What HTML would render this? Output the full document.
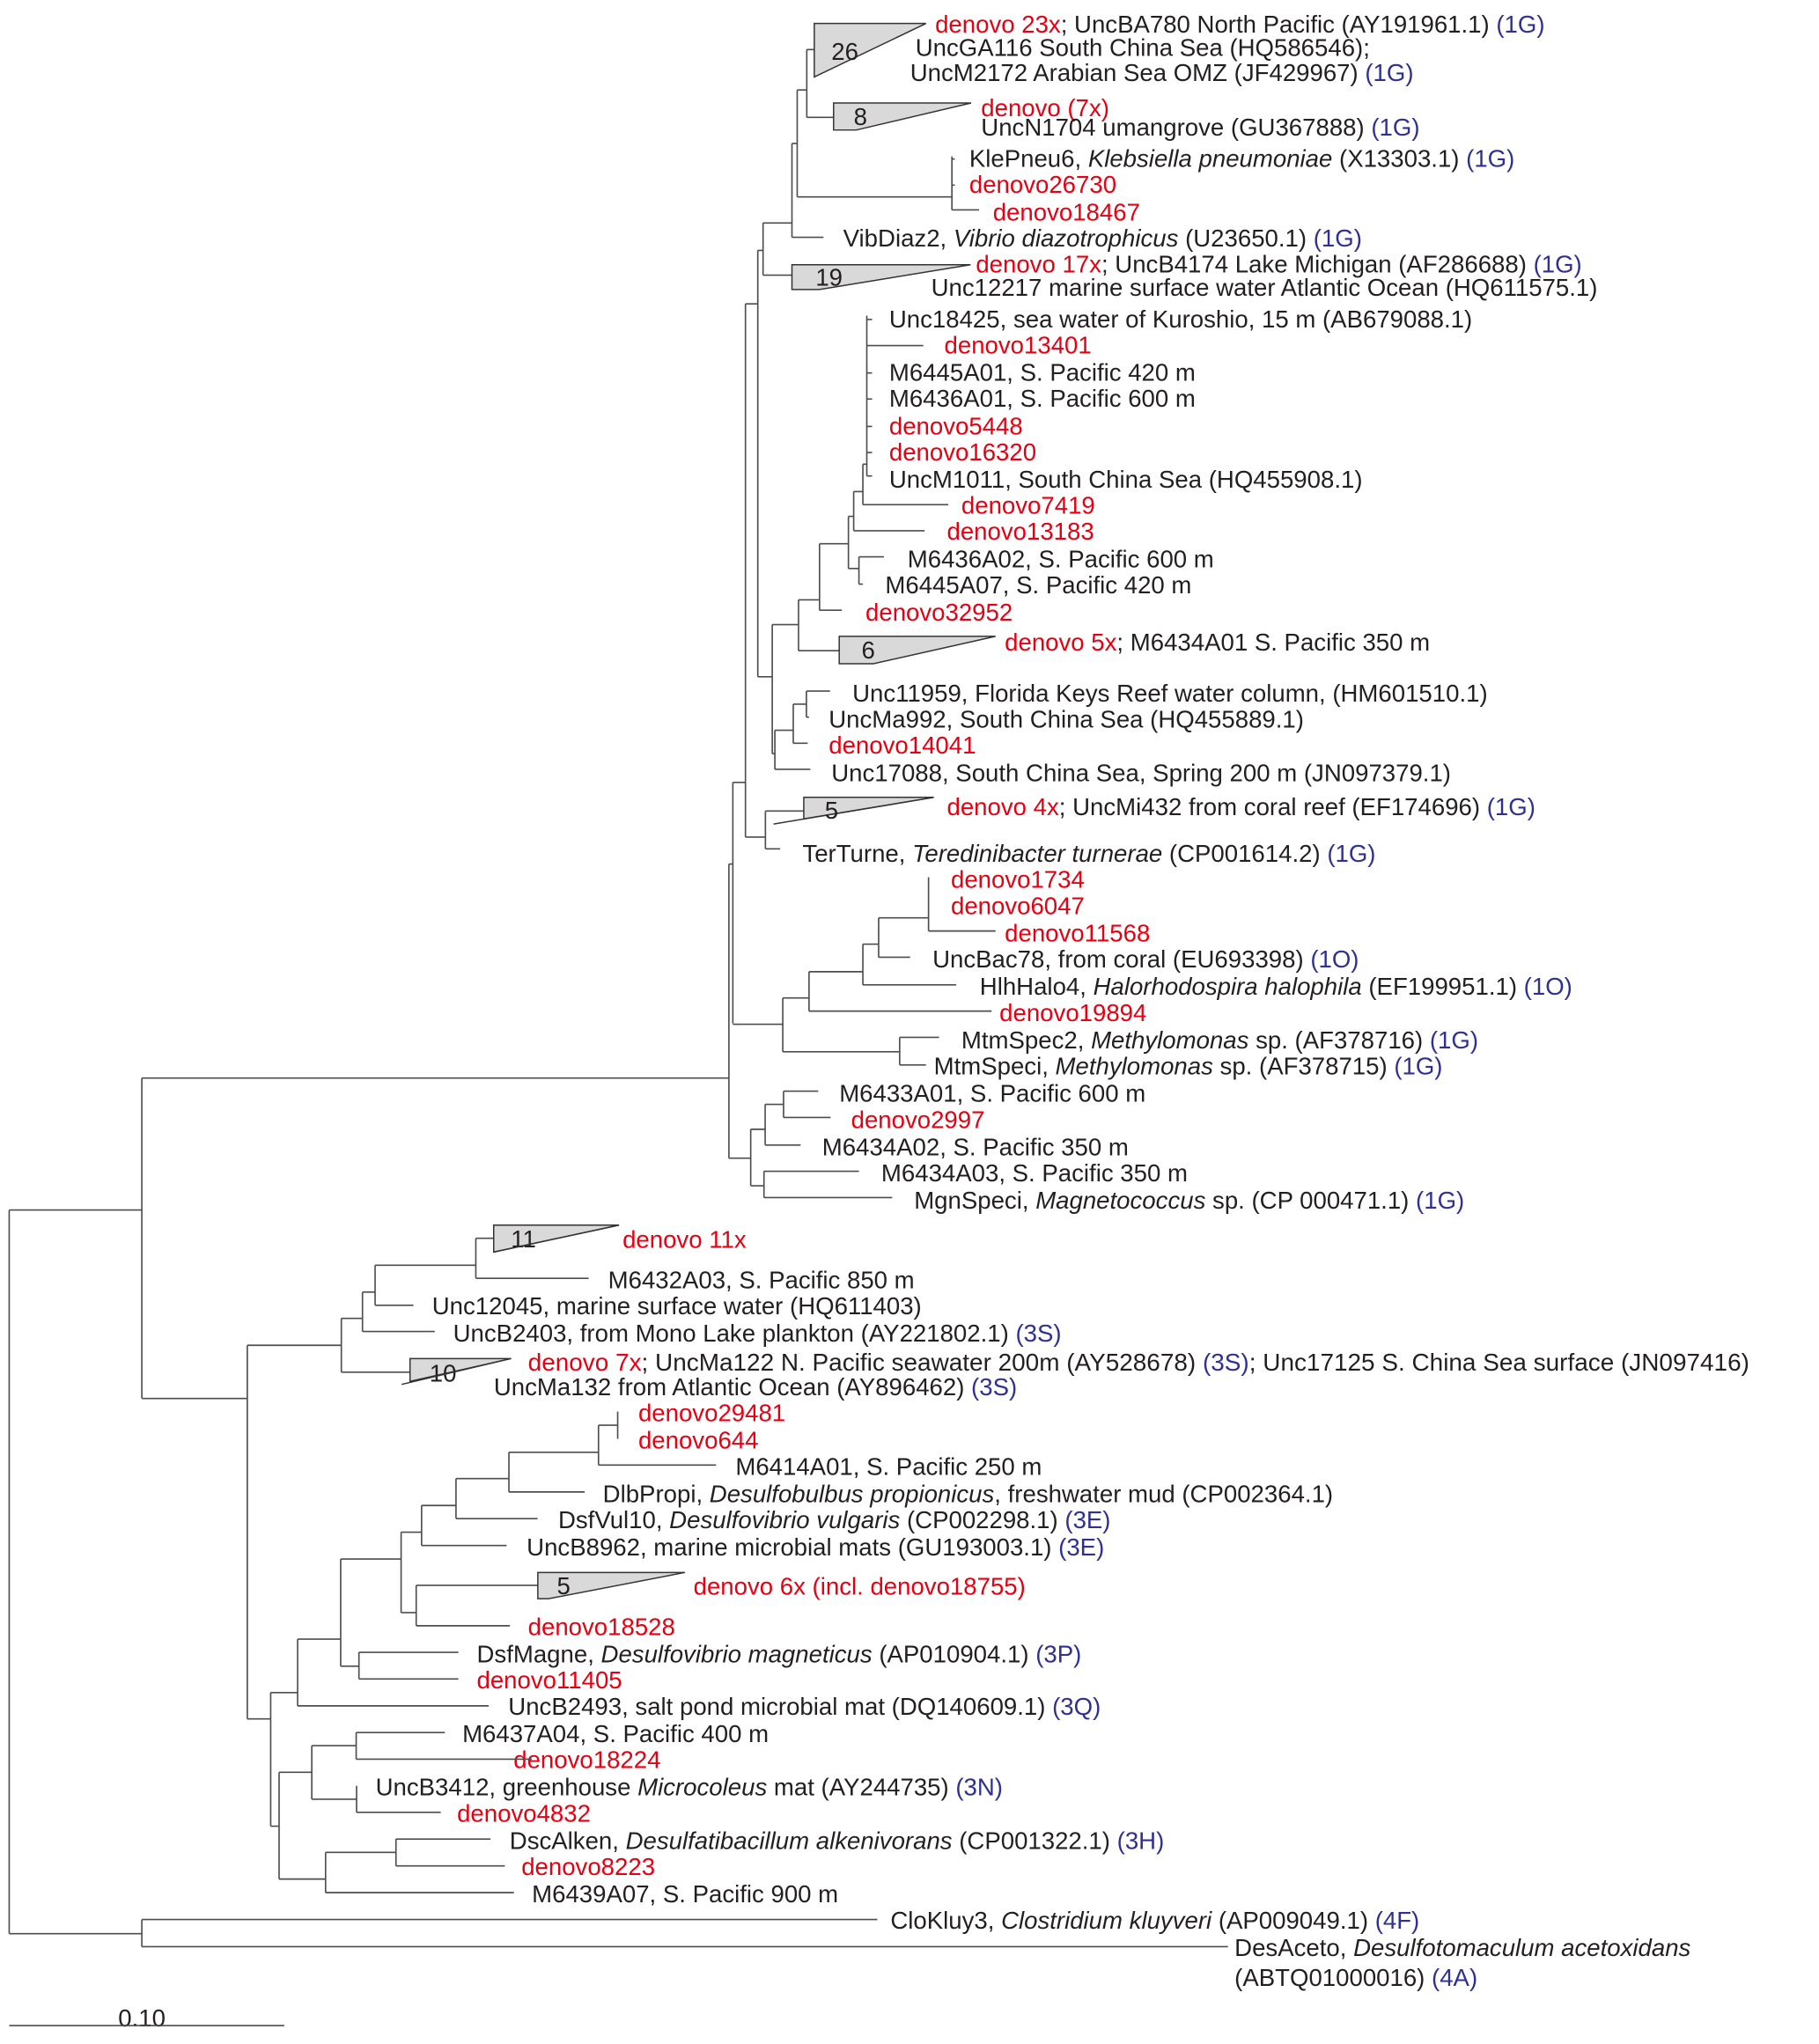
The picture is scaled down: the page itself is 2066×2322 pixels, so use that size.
<!DOCTYPE html>
<html><head><meta charset="utf-8"><style>
html,body{margin:0;padding:0;background:#fff;}
svg{display:block;}
text{font-family:"Liberation Sans",sans-serif;font-size:18.5px;fill:#231f20;}
.r{fill:#e60012;} .b{fill:#2e3192;} .i{font-style:italic;}
</style></head><body>
<svg width="2066" height="2322" viewBox="0 0 1385 1556.6" xmlns="http://www.w3.org/2000/svg">
<rect width="1385" height="1556.6" fill="#fff"/>
<g transform="scale(1,0.993)">
<g stroke="#4d4d4d" stroke-width="1.1" fill="none">
<path d="M558 600V785M567.6 600H558M567.6 233V642M567.6 233H577M577 192V519M577 192H581M581 171V211M581 171H603M603 110V182M603 110H607M607 69V151M607 69H614.3M614.3 38V90M614.3 38H620M614.3 90H634.7M607 151H724.8M724.8 120V161M724.8 161H745.5M724.8 122H727M724.8 142H727M603 182H627M581 211H603"/>
<path d="M577 519H588M588 479V578M588 479H608M608 460V499M608 460H624M624 417V468M624 417H646M646 396V436M646 396H650M650 377V407M650 377H657M657 356V387M657 356H660M660 242V365M660 265H703M660 245H664M660 286H664M660 306H664M660 327H664M660 347H664M660 365H664M657 387H722M650 407H704M646 436H654M654 427V448M654 427H673M654 448H657M624 468H641M608 499H639"/>
<path d="M588 578H590M590 560V590M590 560H604M604 540V570M604 540H614M614 530V550M614 530H632M614 550H616M604 570H615M590 590H617M567.6 642H582.8M582.8 622V651M582.8 622H612M582.8 651H594"/>
</g>
<g stroke="#333" stroke-width="1" fill="#d9d9d9">
<polygon points="620,18 705,18 620,59"/>
<polygon points="634.7,79 739.4,79 652,99.7 634.7,99.7"/>
<polygon points="603,203 739,203 624,222 603,222"/>
<polygon points="639,488 758,488 665,509 639,509"/>
<polygon points="612,611.5 711,611.5 612,628"/>
<line x1="711" y1="611.5" x2="589" y2="632"/>
</g>
<text x="633" y="46">26</text>
<text x="650" y="96">8</text>
<text x="621" y="219">19</text>
<text x="656" y="505">6</text>
<text x="628" y="628">5</text>

<text x="712" y="25"><tspan class="r">denovo 23x</tspan>; UncBA780 North Pacific (AY191961.1) <tspan class="b">(1G)</tspan></text>
<text x="697" y="43">UncGA116 South China Sea (HQ586546);</text>
<text x="693" y="62">UncM2172 Arabian Sea OMZ (JF429967) <tspan class="b">(1G)</tspan></text>
<text x="747" y="89" class="r">denovo (7x)</text>
<text x="747" y="104">UncN1704 umangrove (GU367888) <tspan class="b">(1G)</tspan></text>
<text x="738" y="128">KlePneu6,  <tspan class="i">Klebsiella pneumoniae</tspan> (X13303.1) <tspan class="b">(1G)</tspan></text>
<text x="738" y="148" class="r">denovo26730</text>
<text x="756" y="169" class="r">denovo18467</text>
<text x="642" y="189">VibDiaz2, <tspan class="i">Vibrio diazotrophicus</tspan> (U23650.1) <tspan class="b">(1G)</tspan></text>
<text x="743" y="209"><tspan class="r">denovo 17x</tspan>;  UncB4174 Lake Michigan (AF286688) <tspan class="b">(1G)</tspan></text>
<text x="709" y="227">Unc12217 marine surface water Atlantic Ocean (HQ611575.1)</text>
<text x="677" y="251">Unc18425, sea water of Kuroshio, 15 m (AB679088.1)</text>
<text x="719" y="271" class="r">denovo13401</text>
<text x="677" y="292">M6445A01, S. Pacific 420 m</text>
<text x="677" y="312">M6436A01, S. Pacific 600 m</text>
<text x="677" y="333" class="r">denovo5448</text>
<text x="677" y="353" class="r">denovo16320</text>
<text x="677" y="374">UncM1011, South China Sea (HQ455908.1)</text>
<text x="732" y="394" class="r">denovo7419</text>
<text x="721" y="414" class="r">denovo13183</text>
<text x="691" y="435">M6436A02, S. Pacific 600 m</text>
<text x="674" y="455">M6445A07, S. Pacific 420 m</text>
<text x="659" y="476" class="r">denovo32952</text>
<text x="765" y="499"><tspan class="r">denovo 5x</tspan>; M6434A01 S. Pacific 350 m</text>
<text x="649" y="538">Unc11959, Florida Keys Reef water column, (HM601510.1)</text>
<text x="631" y="558">UncMa992, South China Sea (HQ455889.1)</text>
<text x="631" y="578" class="r">denovo14041</text>
<text x="633" y="599">Unc17088, South China Sea, Spring 200 m (JN097379.1)</text>
<text x="721" y="625"><tspan class="r">denovo 4x</tspan>; UncMi432 from coral reef (EF174696) <tspan class="b">(1G)</tspan></text>
<text x="611" y="661">TerTurne, <tspan class="i">Teredinibacter turnerae</tspan> (CP001614.2) <tspan class="b">(1G)</tspan></text>
<text x="724" y="681" class="r">denovo1734</text>
<text x="724" y="701" class="r">denovo6047</text>
<text x="765" y="722" class="r">denovo11568</text>
<text x="710" y="742">UncBac78, from coral (EU693398) <tspan class="b">(1O)</tspan></text>
<text x="746" y="763">HlhHalo4, <tspan class="i">Halorhodospira halophila</tspan> (EF199951.1) <tspan class="b">(1O)</tspan></text>
<text x="761" y="783" class="r">denovo19894</text>
<text x="732" y="804">MtmSpec2, <tspan class="i">Methylomonas</tspan> sp. (AF378716) <tspan class="b">(1G)</tspan></text>
<text x="711" y="824">MtmSpeci, <tspan class="i">Methylomonas</tspan> sp. (AF378715) <tspan class="b">(1G)</tspan></text>
<text x="639" y="845">M6433A01, S. Pacific 600 m</text>
<text x="648" y="865" class="r">denovo2997</text>
<text x="626" y="886">M6434A02, S. Pacific 350 m</text>
<text x="671" y="906">M6434A03, S. Pacific 350 m</text>
<text x="696" y="927">MgnSpeci, <tspan class="i">Magnetococcus</tspan> sp. (CP 000471.1) <tspan class="b">(1G)</tspan></text>
<text x="474" y="957" class="r">denovo 11x</text>
<text x="463" y="988">M6432A03, S. Pacific 850 m</text>
<text x="329" y="1008">Unc12045, marine surface water (HQ611403)</text>
<text x="345" y="1029">UncB2403, from Mono Lake plankton (AY221802.1) <tspan class="b">(3S)</tspan></text>
<text x="402" y="1051" textLength="930" lengthAdjust="spacingAndGlyphs"><tspan class="r">denovo 7x</tspan>; UncMa122 N. Pacific seawater 200m (AY528678) <tspan class="b">(3S)</tspan>; Unc17125 S. China Sea surface (JN097416)</text>
<text x="376" y="1070">UncMa132 from Atlantic Ocean (AY896462) <tspan class="b">(3S)</tspan></text>
<text x="486" y="1090" class="r">denovo29481</text>
<text x="486" y="1111" class="r">denovo644</text>
<text x="560" y="1131">M6414A01, S. Pacific 250 m</text>
<text x="459" y="1152">DlbPropi, <tspan class="i">Desulfobulbus propionicus</tspan>, freshwater mud (CP002364.1)</text>
<text x="425" y="1172">DsfVul10, <tspan class="i">Desulfovibrio vulgaris</tspan> (CP002298.1) <tspan class="b">(3E)</tspan></text>
<text x="401" y="1193">UncB8962, marine microbial mats (GU193003.1) <tspan class="b">(3E)</tspan></text>
<text x="528" y="1223" class="r">denovo 6x (incl. denovo18755)</text>
<text x="402" y="1254" class="r">denovo18528</text>
<text x="363" y="1275">DsfMagne, <tspan class="i">Desulfovibrio magneticus</tspan> (AP010904.1) <tspan class="b">(3P)</tspan></text>
<text x="363" y="1295" class="r">denovo11405</text>
<text x="387" y="1315">UncB2493, salt pond microbial mat (DQ140609.1) <tspan class="b">(3Q)</tspan></text>
<text x="352" y="1336">M6437A04, S. Pacific 400 m</text>
<text x="391" y="1356" class="r">denovo18224</text>
<text x="286" y="1377">UncB3412, greenhouse <tspan class="i">Microcoleus</tspan> mat (AY244735) <tspan class="b">(3N)</tspan></text>
<text x="348" y="1397" class="r">denovo4832</text>
<text x="388" y="1418">DscAlken, <tspan class="i">Desulfatibacillum alkenivorans</tspan> (CP001322.1) <tspan class="b">(3H)</tspan></text>
<text x="397" y="1438" class="r">denovo8223</text>
<text x="405" y="1459">M6439A07, S. Pacific 900 m</text>
<text x="678" y="1479">CloKluy3, <tspan class="i">Clostridium kluyveri</tspan> (AP009049.1) <tspan class="b">(4F)</tspan></text>
<text x="940" y="1500">DesAceto, <tspan class="i">Desulfotomaculum acetoxidans</tspan></text>
<text x="940" y="1523">(ABTQ01000016) <tspan class="b">(4A)</tspan></text>
<text x="90" y="1554">0.10</text>
</g>

<g stroke="#4d4d4d" stroke-width="1.1" fill="none">
<path d="M7 921.5H108M7 921.5V1472.6M7 1472.6H108M108 1461.8V1482.5M108 1461.8H668M108 1482.5H935M108 821V1065M108 821H555M108 1065H188.3"/>
<path d="M555 658V882M555 658H558M558 780H596M596 760V801M596 760H616M616 740V770M616 740H657M657 719V750M657 719H669M669 699V729M669 699H707M707 668V709M707 709H758M669 729H693M657 750H728M616 770H755M596 801H685M685 790V811M685 790H715M685 811H705"/>
<path d="M555 882H571.6M571.6 860V903M571.6 860H582.6M582.6 841V872M582.6 841H596.6M596.6 831V851M596.6 831H623M596.6 851H632.4M582.6 872H609.6M571.6 903H581.7M581.7 892V912M581.7 892H654M581.7 912H679.3"/>
<path d="M188.3 1024.5V1309M188.3 1024.5H259.9M259.9 1004V1045M259.9 1004H276M276 984V1014M276 984H285.6M285.6 963.5V994M285.6 963.5H362.3M362.3 943V973.5M362.3 943H375.9M362.3 973.5H448.2M285.6 994H314.8M276 1014H331M259.9 1045H312.2"/>
<path d="M188.3 1309H206.1M206.1 1289V1390.7M206.1 1289H226.6M226.6 1248.3V1299.1M226.6 1248.3H259.4M259.4 1187.3V1268.9M259.4 1187.3H305.4M305.4 1166.8V1228.1M305.4 1166.8H321M321 1146.5V1177M321 1146.5H347.2M347.2 1126V1156.5M347.2 1126H387.5M387.5 1106V1136.2M387.5 1106H455.7M455.7 1085.4V1115.7M455.7 1085.4H470.3M470.3 1075V1095.7M455.7 1115.7H545.2M387.5 1136.2H445.2M347.2 1156.5H409.3M321 1177H385.7"/>
<path d="M305.4 1228.1H316.9M316.9 1207.3V1238.1M316.9 1207.3H409.5M316.9 1238.1H388.2M259.4 1268.9H273.3M273.3 1258.3V1278.6M273.3 1258.3H349M273.3 1278.6H349M226.6 1299.1H372.1"/>
<path d="M206.1 1390.7H212.5M212.5 1349.7V1431M212.5 1349.7H237.4M237.4 1329.4V1370.2M237.4 1329.4H271.2M271.2 1319.4V1339.7M271.2 1319.4H338.7M271.2 1339.7H404.9M237.4 1370.2H271.5M271.5 1360V1380.2M271.5 1380.2H335.6M212.5 1431H247.9M247.9 1410.7V1441.3M247.9 1410.7H301.5M301.5 1400.5V1421M301.5 1400.5H373.4M301.5 1421H384.4M247.9 1441.3H391.3"/>
<path d="M7 1542.6H216.5"/>
</g>
<g stroke="#333" stroke-width="1" fill="#d9d9d9">
<polygon points="375.9,933 471.3,933 375.9,953.5"/>
<polygon points="312.2,1034.6 389.2,1034.6 312.2,1052"/>
<polygon points="409.5,1197.5 521.6,1197.5 417.7,1217.5 409.5,1217.5"/>
</g>
<text x="389" y="950">11</text>
<text x="327" y="1052">10</text>
<text x="424" y="1214">5</text>
<line x1="389.2" y1="1034.6" x2="305.8" y2="1054.3" stroke="#333" stroke-width="1"/>
<line x1="471.3" y1="933" x2="375.9" y2="953.5" stroke="#333" stroke-width="1"/>
</svg>
</body></html>
